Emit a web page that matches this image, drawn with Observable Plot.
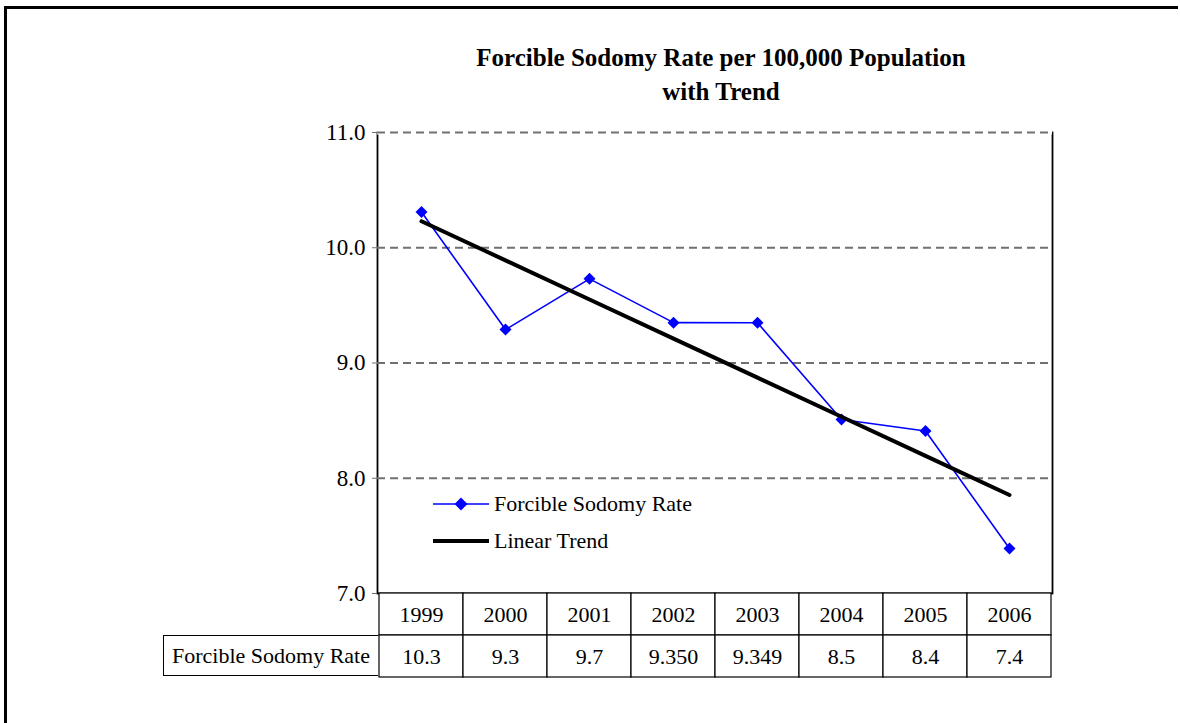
<!DOCTYPE html>
<html>
<head>
<meta charset="utf-8">
<script src="https://cdn.jsdelivr.net/npm/d3@7"></script>
<script src="https://cdn.jsdelivr.net/npm/@observablehq/plot@0.6"></script>
<style>
  html, body { margin: 0; padding: 0; background: white; overflow: hidden; }
  body { width: 1180px; height: 723px; position: relative; font-family: "Liberation Serif", "Times New Roman", serif; }
  #topline { position: absolute; left: 4px; top: 6px; width: 1174px; height: 2.5px; background: black; }
  #leftline { position: absolute; left: 4px; top: 6px; width: 2.5px; height: 717px; background: black; }
  #title { position: absolute; left: 421px; width: 600px; top: 41px; text-align: center; font-weight: bold; font-size: 25px; line-height: 34px; color: black; }
  #main, #table { position: absolute; left: 0; }
  #main { top: 0; }
  #table { top: 592px; }
  .leg { position: absolute; left: 433px; height: 30px; display: flex; align-items: center; font-size: 22px; color: black; }
  .leg svg { margin-right: 5px; }
  #labelcell { position: absolute; left: 163px; top: 635px; width: 215px; height: 41px; box-sizing: border-box; border: 1.2px solid black; border-right: none; font-size: 22px; display: flex; align-items: center; justify-content: center; background: white; }
</style>
</head>
<body>
<div id="topline"></div>
<div id="leftline"></div>
<div id="title">Forcible Sodomy Rate per 100,000 Population<br>with Trend</div>
<div id="main"></div>
<div id="table"></div>
<div id="labelcell"></div>
<div class="leg" id="leg1" style="top:489px"></div>
<div class="leg" id="leg2" style="top:526px"></div>
<script>
// ---- data ----
const years = ["1999", "2000", "2001", "2002", "2003", "2004", "2005", "2006"];
const rates = [10.31, 9.29, 9.73, 9.350, 9.349, 8.51, 8.41, 7.39];
const rateLabels = ["10.3", "9.3", "9.7", "9.350", "9.349", "8.5", "8.4", "7.4"];
const yTicks = [7, 8, 9, 10, 11];
const gridTicks = [8, 9, 10, 11];
const seriesName = "Forcible Sodomy Rate";
const trendName = "Linear Trend";
const tableRows = ["year", "rate"];

// ---- derived ----
const data = years.map((year, i) => ({ year, i, rate: rates[i] }));
const mx = d3.mean(data, d => d.i), my = d3.mean(data, d => d.rate);
const slope = d3.sum(data, d => (d.i - mx) * (d.rate - my)) / d3.sum(data, d => (d.i - mx) ** 2);
const intercept = my - slope * mx;
const trend = data.map(d => ({ year: d.year, value: intercept + slope * d.i }));
const cells = years.flatMap((y, i) => [
  { year: y, row: "year", label: y },
  { year: y, row: "rate", label: rateLabels[i] }
]);

const font = { fontFamily: "Liberation Serif, Times New Roman, serif", fontSize: "22px", background: "transparent", color: "black", overflow: "visible" };

const main = Plot.plot({
  width: 1180, height: 723,
  marginLeft: 377, marginRight: 128, marginTop: 132, marginBottom: 130,
  style: font,
  x: { type: "band", domain: years, padding: 0, axis: null },
  y: { domain: [7, 11], axis: null },
  marks: [
    Plot.frame({ stroke: "black", strokeWidth: 1.8 }),
    Plot.ruleY([11], { stroke: "white", strokeWidth: 4 }),
    Plot.ruleY(gridTicks, { stroke: "#707070", strokeWidth: 1.8, strokeDasharray: "8,5" }),
    Plot.axisY({ ticks: yTicks, tickFormat: d3.format(".1f"), tickSize: 5, tickPadding: 7, stroke: "#707070", fill: "black", fontSize: 23 }),
    Plot.line(data, { x: "year", y: "rate", stroke: "#0000ff", strokeWidth: 1.6 }),
    Plot.dot(data, { x: "year", y: "rate", symbol: "diamond2", r: 5.4, fill: "#0000ff", stroke: "none" }),
    Plot.line(trend, { x: "year", y: "value", stroke: "black", strokeWidth: 4 })
  ]
});
document.getElementById("main").appendChild(main);

const table = Plot.plot({
  width: 1180, height: 86,
  marginLeft: 377, marginRight: 128, marginTop: 1, marginBottom: 1,
  style: font,
  x: { type: "band", domain: years, padding: 0, axis: null },
  y: { type: "band", domain: tableRows, padding: 0, axis: null },
  marks: [
    Plot.cell(cells, { x: "year", y: "row", fill: "white", stroke: "black", strokeWidth: 1.2, inset: 0 }),
    Plot.text(cells, { x: "year", y: "row", text: "label", fontSize: 22, fill: "black" })
  ]
});
document.getElementById("table").appendChild(table);

document.getElementById("labelcell").textContent = seriesName;

document.getElementById("leg1").innerHTML =
  `<svg width="56" height="14"><line x1="0" x2="56" y1="7" y2="7" stroke="#0000ff" stroke-width="1.6"/>` +
  `<path d="M28,0.5L34.5,7L28,13.5L21.5,7Z" fill="#0000ff"/></svg><span>${seriesName}</span>`;
document.getElementById("leg2").innerHTML =
  `<svg width="56" height="14"><line x1="0" x2="56" y1="7" y2="7" stroke="black" stroke-width="4"/></svg><span>${trendName}</span>`;
</script>
</body>
</html>
